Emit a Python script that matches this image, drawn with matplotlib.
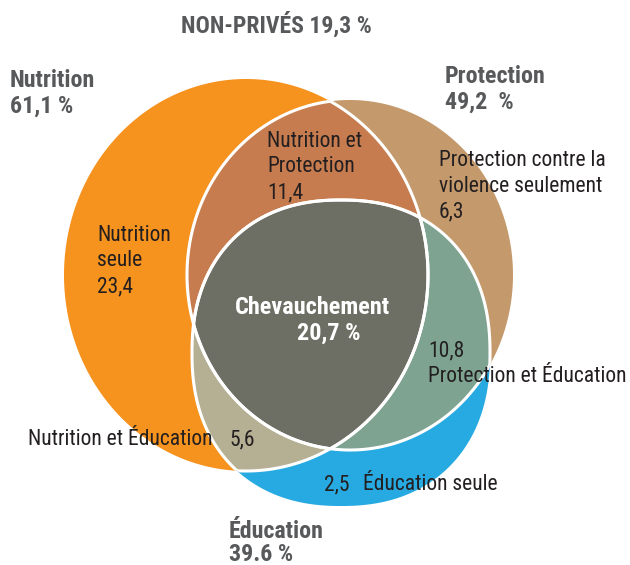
import numpy as np
import matplotlib
matplotlib.use('Agg')
import matplotlib.pyplot as plt
from matplotlib import font_manager
from matplotlib.patches import Polygon

# data
set_keys = ['N', 'P', 'E']
set_names = ['Nutrition', 'Protection', 'Éducation']
set_totals = ['61,1 %', '49,2  %', '39.6 %']

region_keys = ['N', 'NP', 'P', 'PE', 'NE', 'E', 'NPE']
region_names = ['Nutrition\nseule', 'Nutrition et\nProtection',
                'Protection contre la\nviolence seulement', 'Protection et Éducation',
                'Nutrition et Éducation', 'Éducation seule', 'Chevauchement']
region_values = [23.4, 11.4, 6.3, 10.8, 5.6, 2.5, 20.7]

non_private_name = 'NON-PRIVÉS'
non_private_value = 19.3

# layout (pixel coords, y down)
shapes = {'N': (246, 275, 182, 196, 2.0),
          'P': (350, 275, 163, 175, 2.0),
          'E': (341, 353, 149, 153, 2.25)}
colors = {'N': '#F6921E', 'P': '#C49A6C', 'E': '#27AAE1',
          'NP': '#C67C4F', 'NE': '#B5B093', 'PE': '#7EA391', 'NPE': '#6D6E64'}
set_label_pos = {'N': (10, 87, 26), 'P': (445, 83, 26), 'E': (229, 538, 23)}
region_label_pos = {'N': (97, 241, 'below', None), 'NP': (267, 147, 'below', None),
                    'P': (439, 166, 'below', None), 'PE': (428, 356, 'above', None),
                    'NE': (28, 445, 'right', 229), 'E': (363, 490, 'left', 324)}

gray = '#58595B'
ink = '#231F20'
have = {f.name for f in font_manager.fontManager.ttflist}
narrow = [f for f in ['Roboto Condensed', 'Archivo Narrow', 'Liberation Sans Narrow',
                      'PT Sans Narrow', 'Open Sans Condensed'] if f in have]
plt.rcParams['font.family'] = narrow[:1] + ['DejaVu Sans']


def fr(v):
    return f'{v:.1f}'.replace('.', ',')


def outline(cx, cy, rx, ry, n, k=1440):
    t = np.linspace(0, 2 * np.pi, k, endpoint=False)
    c, s = np.cos(t), np.sin(t)
    x = cx + rx * np.sign(c) * np.abs(c) ** (2 / n)
    y = cy + ry * np.sign(s) * np.abs(s) ** (2 / n)
    return np.column_stack([x, y])


def inside(pts, cx, cy, rx, ry, n):
    return np.abs((pts[:, 0] - cx) / rx) ** n + np.abs((pts[:, 1] - cy) / ry) ** n <= 1 + 1e-9


def overlap(keys):
    parts = []
    for k in keys:
        pts = outline(*shapes[k])
        mask = np.ones(len(pts), bool)
        for o in keys:
            if o != k:
                mask &= inside(pts, *shapes[o])
        parts.append(pts[mask])
    pts = np.vstack(parts)
    c = pts.mean(0)
    return pts[np.argsort(np.arctan2(pts[:, 1] - c[1], pts[:, 0] - c[0]))]


fig = plt.figure(figsize=(6.3, 5.65), dpi=100)
ax = fig.add_axes([0, 0, 1, 1])
ax.set_xlim(0, 630)
ax.set_ylim(565, 0)
ax.axis('off')

patches = {}
for k in set_keys:
    patches[k] = Polygon(outline(*shapes[k]), closed=True, fc=colors[k], ec='none')
    ax.add_patch(patches[k])

for k in ['NP', 'NE', 'PE', 'NPE']:
    ax.add_patch(Polygon(overlap(list(k)), closed=True, fc=colors[k], ec='none'))

# white borders only where circles overlap
for k in set_keys:
    for o in set_keys:
        if o == k:
            continue
        line = Polygon(outline(*shapes[k]), closed=True, fill=False, ec='white', lw=2.2)
        ax.add_patch(line)
        line.set_clip_path(patches[o])

ax.text(276, 33, f'{non_private_name} {fr(non_private_value)} %', ha='center', va='baseline',
        fontsize=17, fontweight='bold', color=gray)

for k, name, total in zip(set_keys, set_names, set_totals):
    x, y, dy = set_label_pos[k]
    ax.text(x, y, name, ha='left', va='baseline', fontsize=17.3, fontweight='bold', color=gray)
    ax.text(x, y + dy, total, ha='left', va='baseline', fontsize=17.3, fontweight='bold', color=gray)

step = 25.5
for k, name, v in zip(region_keys, region_names, region_values):
    if k == 'NPE':
        ax.text(312, 314, name, ha='center', va='baseline', fontsize=17.5,
                fontweight='bold', color='white')
        ax.text(329, 340, fr(v) + ' %', ha='center', va='baseline', fontsize=17.5,
                fontweight='bold', color='white')
        continue
    x, y, where, vx = region_label_pos[k]
    rows = name.split('\n')
    if where == 'below':
        rows = rows + [fr(v)]
    elif where == 'above':
        rows = [fr(v)] + rows
    else:
        ax.text(vx, y, fr(v), ha='left', va='baseline', fontsize=15.5, color=ink)
    for i, r in enumerate(rows):
        ax.text(x, y + i * step, r, ha='left', va='baseline', fontsize=15.5, color=ink)

fig.savefig('out.png', dpi=100)
